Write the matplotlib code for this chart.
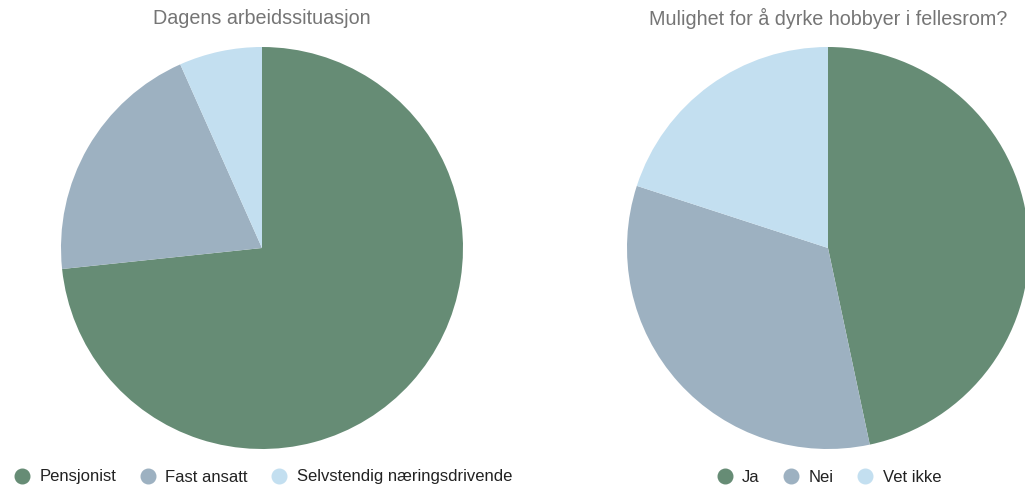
import matplotlib.pyplot as plt
from matplotlib.lines import Line2D

plt.rcParams['font.family'] = ['Liberation Sans', 'DejaVu Sans']

# Data
left_title = 'Dagens arbeidssituasjon'
left_labels = ['Pensjonist', 'Fast ansatt', 'Selvstendig næringsdrivende']
left_values = [11, 3, 1]

right_title = 'Mulighet for å dyrke hobbyer i fellesrom?'
right_labels = ['Ja', 'Nei', 'Vet ikke']
right_values = [7, 5, 3]

colors = ['#668c75', '#9db1c1', '#c3dff0']

W, H = 1025, 488
fig = plt.figure(figsize=(W / 100, H / 100), dpi=100)
R = 201


def draw_pie(cx, cy, title, labels, values):
    ax = fig.add_axes([(cx - R) / W, (H - cy - R) / H, 2 * R / W, 2 * R / H])
    ax.pie(values, colors=colors, startangle=90, counterclock=False,
           radius=1, wedgeprops=dict(linewidth=0))
    ax.set_xlim(-1, 1)
    ax.set_ylim(-1, 1)
    ax.set_aspect('equal')
    ax.axis('off')
    fig.text(cx / W, 1 - 18 / H, title, ha='center', va='center',
             fontsize=14.2, color='#757575')
    handles = [Line2D([], [], marker='o', linestyle='', markersize=10.5,
                      markerfacecolor=c, markeredgecolor=c) for c in colors]
    fig.legend(handles, labels, loc='center', ncol=3, frameon=False,
               bbox_to_anchor=(cx / W, 1 - 477 / H), fontsize=12,
               handlelength=1.2, handletextpad=0.45, columnspacing=1.3,
               labelcolor='#222222')
    return ax


draw_pie(262, 248, left_title, left_labels, left_values)
draw_pie(828, 248, right_title, right_labels, right_values)

fig.savefig('out.png', dpi=100)
